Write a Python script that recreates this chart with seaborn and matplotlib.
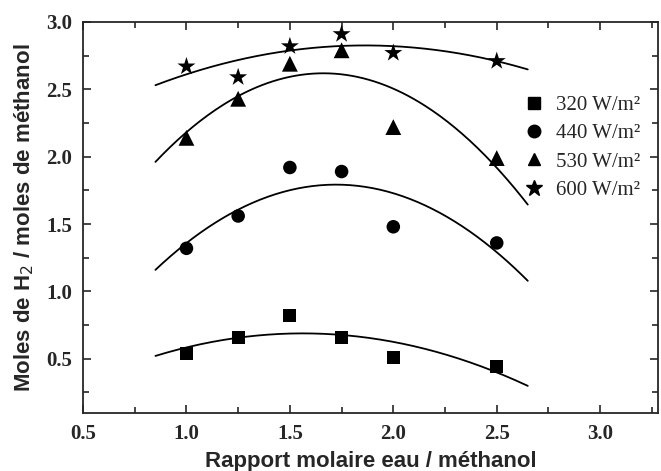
import numpy as np
import pandas as pd
import matplotlib
matplotlib.use("Agg")
import matplotlib.pyplot as plt
from matplotlib.ticker import MultipleLocator
import seaborn as sns

# Molar ratio water / methanol
ratio = [1.0, 1.25, 1.5, 1.75, 2.0, 2.5]

# H2 yield (mol H2 / mol methanol) for each irradiance
h2_320 = [0.54, 0.66, 0.82, 0.66, 0.51, 0.44]
h2_440 = [1.32, 1.56, 1.92, 1.89, 1.48, 1.36]
h2_530 = [2.14, 2.43, 2.69, 2.79, 2.22, 1.99]
h2_600 = [2.67, 2.59, 2.82, 2.91, 2.77, 2.71]

labels = ["320 W/m²", "440 W/m²", "530 W/m²", "600 W/m²"]
markers = ["s", "o", "^", "*"]
marker_area = [85, 95, 130, 185]
series = [h2_320, h2_440, h2_530, h2_600]

df = pd.DataFrame({
    "ratio": np.tile(ratio, len(series)),
    "h2": np.concatenate(series),
    "irr": np.repeat(labels, len(ratio)),
})

# Second-order polynomial trend of each series
xfit = np.linspace(0.85, 2.65, 200)
fits = []
for lab, vals in zip(labels, series):
    c = np.polyfit(ratio, vals, 2)
    fits.append(pd.DataFrame({"ratio": xfit, "h2": np.polyval(c, xfit), "irr": lab}))
fit_df = pd.concat(fits, ignore_index=True)

sns.set_style("ticks")
fig = plt.figure(figsize=(6.61, 4.71), dpi=100)
ax = fig.add_axes([0.1256, 0.1238, 0.8700, 0.8295])

sns.lineplot(data=fit_df, x="ratio", y="h2", units="irr", estimator=None,
             color="black", lw=1.3, ax=ax, legend=False)
sns.scatterplot(data=df, x="ratio", y="h2", style="irr", style_order=labels,
                markers=dict(zip(labels, markers)),
                size="irr", sizes=dict(zip(labels, marker_area)),
                color="black", edgecolor="black", linewidth=0,
                ax=ax, legend=False)

ax.set_xlim(0.5, 3.28)
ax.set_ylim(0.1, 3.0)
ax.xaxis.set_major_locator(MultipleLocator(0.5))
ax.xaxis.set_minor_locator(MultipleLocator(0.25))
ax.yaxis.set_major_locator(MultipleLocator(0.5))
ax.yaxis.set_minor_locator(MultipleLocator(0.25))
ax.tick_params(which="both", direction="in", top=True, right=True, width=1.2)
ax.tick_params(which="major", length=6)
ax.tick_params(which="minor", length=4)
for sp in ax.spines.values():
    sp.set_linewidth(1.3)

ax.set_yticks([0.5, 1.0, 1.5, 2.0, 2.5, 3.0])
ax.set_xticks([0.5, 1.0, 1.5, 2.0, 2.5, 3.0])
for t in ax.get_xticklabels() + ax.get_yticklabels():
    t.set_fontfamily("Liberation Serif")
    t.set_fontweight("bold")
    t.set_fontsize(15)
ax.tick_params(axis="x", pad=8)
ax.tick_params(axis="y", pad=8)

ax.set_xlabel("Rapport molaire eau / méthanol", fontfamily="Liberation Sans",
              fontweight="bold", fontsize=16, labelpad=5)
ax.set_ylabel("Moles de H$_{2}$ / moles de méthanol", fontfamily="Liberation Sans",
              fontweight="bold", fontsize=16, labelpad=7)

handles = [plt.Line2D([], [], ls="", marker=m, color="black",
                      markersize=12 if m == "*" else 9) for m in markers]
leg = ax.legend(handles, labels, loc="upper left", bbox_to_anchor=(0.725, 0.86),
                frameon=False, handletextpad=0.3, labelspacing=0.42,
                handlelength=1.5,
                prop={"family": "Liberation Serif", "size": 15})

fig.savefig("out.png", dpi=100)
